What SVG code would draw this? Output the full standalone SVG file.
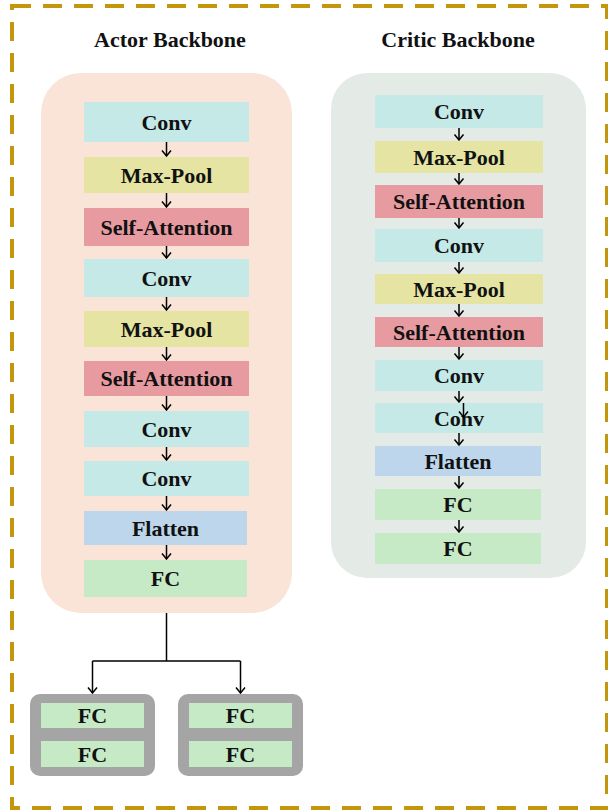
<svg xmlns="http://www.w3.org/2000/svg" width="608" height="811" viewBox="0 0 608 811">
<defs>
<marker id="arr" markerUnits="userSpaceOnUse" viewBox="-7 -6 8 12" markerWidth="8" markerHeight="12" refX="0" refY="0" orient="auto">
<path d="M-5.5,-4.5 L0,0 L-5.5,4.5" fill="none" stroke="#000" stroke-width="1.5"/>
</marker>
</defs>
<style>
.t{font-family:"Liberation Serif","Times New Roman",serif;font-weight:bold;font-size:22px;fill:#111;text-anchor:middle}
.conv{fill:#C5E9E7}.pool{fill:#E5E4A2}.att{fill:#E79BA1}.flat{fill:#BDD6EC}.fc{fill:#C6E9C6}
.c line,.c path{stroke:#000;stroke-width:1.5;fill:none}
.a{marker-end:url(#arr)}
</style>
<rect x="12" y="6" width="595" height="802" fill="none" stroke="#C4960C" stroke-width="4" stroke-dasharray="19 12"/>
<text class="t" x="170" y="47">Actor Backbone</text>
<text class="t" x="458" y="47">Critic Backbone</text>
<rect id="actor-bg" x="41" y="73" width="251" height="540" rx="40" fill="#FAE4D7"/>
<rect id="critic-bg" x="331" y="73" width="255" height="505" rx="36" fill="#E4EAE6"/>
<g id="a1"><rect class="conv" x="84" y="102" width="165" height="40"/><text class="t" x="166.5" y="129.5">Conv</text></g>
<g id="a2"><rect class="pool" x="84" y="157" width="165" height="36"/><text class="t" x="166.5" y="182.5">Max-Pool</text></g>
<g id="a3"><rect class="att" x="84" y="208" width="165" height="38"/><text class="t" x="166.5" y="234.5">Self-Attention</text></g>
<g id="a4"><rect class="conv" x="84" y="259" width="165" height="38"/><text class="t" x="166.5" y="285.5">Conv</text></g>
<g id="a5"><rect class="pool" x="84" y="311" width="165" height="36"/><text class="t" x="166.5" y="336.5">Max-Pool</text></g>
<g id="a6"><rect class="att" x="84" y="361" width="165" height="35"/><text class="t" x="166.5" y="386">Self-Attention</text></g>
<g id="a7"><rect class="conv" x="84" y="411" width="165" height="36"/><text class="t" x="166.5" y="436.5">Conv</text></g>
<g id="a8"><rect class="conv" x="84" y="461" width="165" height="35"/><text class="t" x="166.5" y="486">Conv</text></g>
<g id="a9"><rect class="flat" x="84" y="511" width="163" height="34"/><text class="t" x="165.5" y="535.5">Flatten</text></g>
<g id="a10"><rect class="fc" x="84" y="560" width="163" height="37"/><text class="t" x="165.5" y="586">FC</text></g>
<g id="c1"><rect class="conv" x="375" y="95" width="168" height="33"/><text class="t" x="459" y="119">Conv</text></g>
<g id="c2"><rect class="pool" x="375" y="141" width="168" height="32"/><text class="t" x="459" y="164.5">Max-Pool</text></g>
<g id="c3"><rect class="att" x="375" y="185" width="168" height="33"/><text class="t" x="459" y="209">Self-Attention</text></g>
<g id="c4"><rect class="conv" x="375" y="229" width="168" height="33"/><text class="t" x="459" y="253">Conv</text></g>
<g id="c5"><rect class="pool" x="375" y="274" width="168" height="30"/><text class="t" x="459" y="296.5">Max-Pool</text></g>
<g id="c6"><rect class="att" x="375" y="317" width="168" height="30"/><text class="t" x="459" y="339.5">Self-Attention</text></g>
<g id="c7"><rect class="conv" x="375" y="360" width="168" height="31"/><text class="t" x="459" y="383">Conv</text></g>
<g id="c8"><rect class="conv" x="375" y="403" width="168" height="30"/><text class="t" x="459" y="425.5">Conv</text></g>
<g id="c9"><rect class="flat" x="375" y="446" width="166" height="30"/><text class="t" x="458" y="468.5">Flatten</text></g>
<g id="c10"><rect class="fc" x="375" y="489" width="166" height="31"/><text class="t" x="458" y="512">FC</text></g>
<g id="c11"><rect class="fc" x="375" y="533" width="166" height="31"/><text class="t" x="458" y="556">FC</text></g>
<g id="head1"><rect x="30" y="694" width="125" height="82" rx="10" fill="#A5A5A5"/><rect class="fc" x="41" y="703" width="103" height="25"/><text class="t" x="92.5" y="723">FC</text><rect class="fc" x="41" y="741" width="103" height="26"/><text class="t" x="92.5" y="761.5">FC</text></g>
<g id="head2"><rect x="178" y="694" width="125" height="82" rx="10" fill="#A5A5A5"/><rect class="fc" x="189" y="703" width="103" height="25"/><text class="t" x="240.5" y="723">FC</text><rect class="fc" x="189" y="741" width="103" height="26"/><text class="t" x="240.5" y="761.5">FC</text></g>
<g id="connectors" class="c">
<line class="a" x1="166.5" y1="142" x2="166.5" y2="156"/>
<line class="a" x1="166.5" y1="193" x2="166.5" y2="207"/>
<line class="a" x1="166.5" y1="246" x2="166.5" y2="258"/>
<line class="a" x1="166.5" y1="297" x2="166.5" y2="310"/>
<line class="a" x1="166.5" y1="347" x2="166.5" y2="360"/>
<line class="a" x1="166.5" y1="396" x2="166.5" y2="410"/>
<line class="a" x1="166.5" y1="447" x2="166.5" y2="460"/>
<line class="a" x1="166.5" y1="496" x2="166.5" y2="510"/>
<line class="a" x1="166.5" y1="545" x2="166.5" y2="559"/>
<line class="a" x1="459" y1="128" x2="459" y2="140"/>
<line class="a" x1="459" y1="173" x2="459" y2="184"/>
<line class="a" x1="459" y1="218" x2="459" y2="228"/>
<line class="a" x1="459" y1="262" x2="459" y2="273"/>
<line class="a" x1="459" y1="304" x2="459" y2="316"/>
<line class="a" x1="459" y1="347" x2="459" y2="359"/>
<line class="a" x1="459" y1="391" x2="459" y2="402"/>
<line class="a" x1="463.5" y1="403" x2="463.5" y2="417"/>
<line class="a" x1="459" y1="433" x2="459" y2="445"/>
<line class="a" x1="459" y1="476" x2="459" y2="488"/>
<line class="a" x1="459" y1="520" x2="459" y2="532"/>
<path d="M166.5,613 V661 M92.5,661 H240.5"/>
<line class="a" x1="92.5" y1="661" x2="92.5" y2="693"/>
<line class="a" x1="240.5" y1="661" x2="240.5" y2="693"/>
</g>
</svg>
